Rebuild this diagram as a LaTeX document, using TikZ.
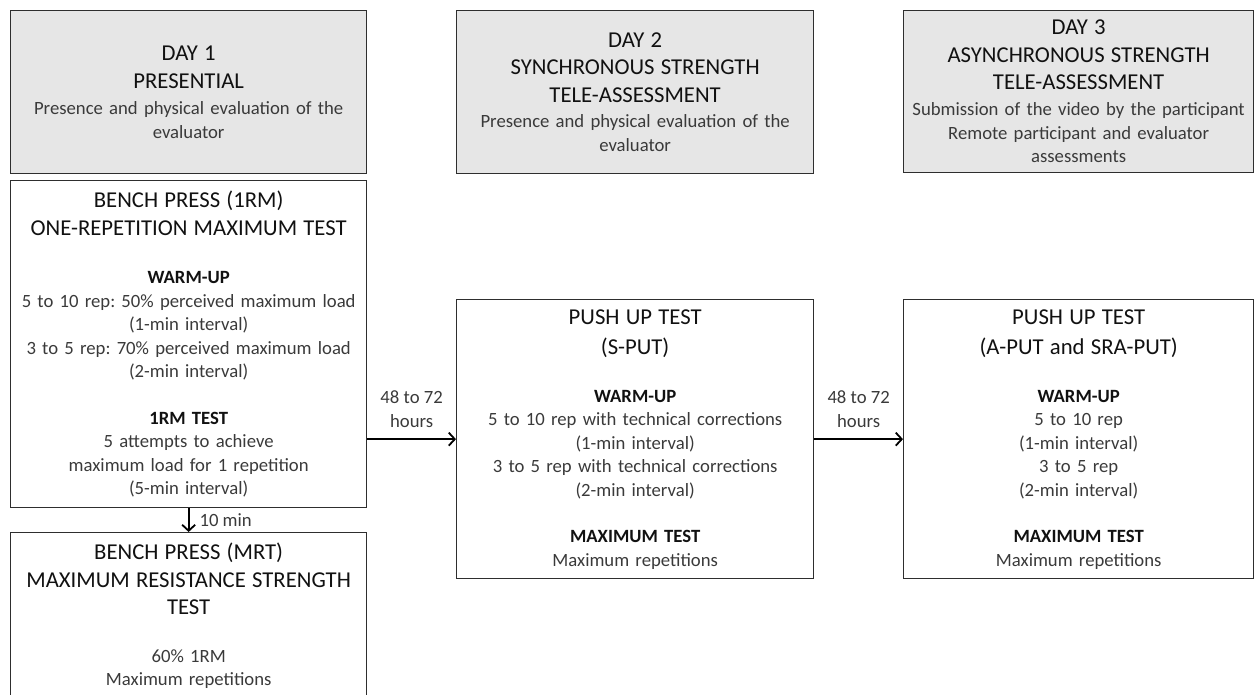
\documentclass[tikz,border=0pt]{standalone}
\usepackage{fontspec}
\setmainfont{Carlito}
\usetikzlibrary{arrows.meta}
\frenchspacing
\definecolor{grayfill}{HTML}{E6E6E6}
\definecolor{linec}{HTML}{2E2E2E}
\definecolor{bodyc}{HTML}{3A3A3A}
\definecolor{titlec}{HTML}{111111}
\newcommand{\mytitle}[1]{{\color{titlec}\fontsize{22.7}{23.5}\selectfont #1}}
\newcommand{\mysub}[1]{{\color{titlec}\bfseries #1}}
\tikzset{
  box/.style 2 args={draw=linec, line width=1.3pt, anchor=north west, inner sep=0pt,
    align=center, text width=#1, minimum height=#2, text=bodyc,
    font=\fontsize{18.7}{23.5}\selectfont},
  daybox/.style 2 args={box={#1}{#2}, fill=grayfill},
  arr/.style={draw=black, line width=1.8pt, -{Straight Barb[length=6pt,width=13pt,line width=1.8pt]}},
  lbl/.style={text=bodyc, align=center, inner sep=0pt, font=\fontsize{18.7}{23.5}\selectfont}
}
\begin{document}
\begin{tikzpicture}[x=1pt,y=-1pt]
\useasboundingbox (0,0) rectangle (1254,694);
% Day boxes
\node[daybox={356pt}{163pt}] (day1) at (10,10)
  {\mytitle{DAY 1}\\[4.5pt]\mytitle{PRESENTIAL}\\[2.5pt]Presence and physical evaluation of the\\evaluator};
\node[daybox={357pt}{163pt}] (day2) at (456,10)
  {\mytitle{DAY 2}\\[4pt]\mytitle{SYNCHRONOUS STRENGTH}\\[4.5pt]\mytitle{TELE-ASSESSMENT}\\[1.5pt]Presence and physical evaluation of the\\evaluator};
\node[daybox={350pt}{162pt}] (day3) at (903,10)
  {\mytitle{DAY 3}\\[4.5pt]\mytitle{ASYNCHRONOUS STRENGTH}\\[3.5pt]\mytitle{TELE-ASSESSMENT}\\[2.5pt]Submission of the video by the participant\\Remote participant and evaluator\\assessments};
% Test boxes
\node[box={356pt}{327pt}] (bench) at (10,180)
  {\mytitle{BENCH PRESS (1RM)}\\[4.5pt]\mytitle{ONE-REPETITION MAXIMUM TEST}\\[24.5pt]\mysub{WARM-UP}\\5 to 10 rep: 50\% perceived maximum load\\(1-min interval)\\3 to 5 rep: 70\% perceived maximum load\\(2-min interval)\\[23pt]\mysub{1RM TEST}\\5 attempts to achieve\\maximum load for 1 repetition\\(5-min interval)};
\node[box={356pt}{166pt}] (mrt) at (10,532)
  {\mytitle{BENCH PRESS (MRT)}\\[4.5pt]\mytitle{MAXIMUM RESISTANCE STRENGTH}\\[3.5pt]\mytitle{TEST}\\[24.5pt]60\% 1RM\\Maximum repetitions};
\node[box={357pt}{279pt}] (pushs) at (456,299)
  {\mytitle{PUSH UP TEST}\\[6.5pt]\mytitle{(S-PUT)}\\[24.5pt]\mysub{WARM-UP}\\5 to 10 rep with technical corrections\\(1-min interval)\\3 to 5 rep with technical corrections\\(2-min interval)\\[23pt]\mysub{MAXIMUM TEST}\\Maximum repetitions};
\node[box={350pt}{279pt}] (pusha) at (903,299)
  {\mytitle{PUSH UP TEST}\\[6.5pt]\mytitle{(A-PUT and SRA-PUT)}\\[24.5pt]\mysub{WARM-UP}\\5 to 10 rep\\(1-min interval)\\3 to 5 rep\\(2-min interval)\\[23pt]\mysub{MAXIMUM TEST}\\Maximum repetitions};
% Connectors
\draw[arr] (bench.east |- pushs.west) -- (pushs.west)
  node[lbl, midway, above=11pt] (l1) {48 to 72\\hours};
\draw[arr] (pushs.east) -- (pusha.west)
  node[lbl, midway, above=11pt] (l2) {48 to 72\\hours};
\draw[arr] (bench.south) -- (mrt.north)
  node[lbl, midway, right=10pt] (l3) {10 min};
\end{tikzpicture}
\end{document}
